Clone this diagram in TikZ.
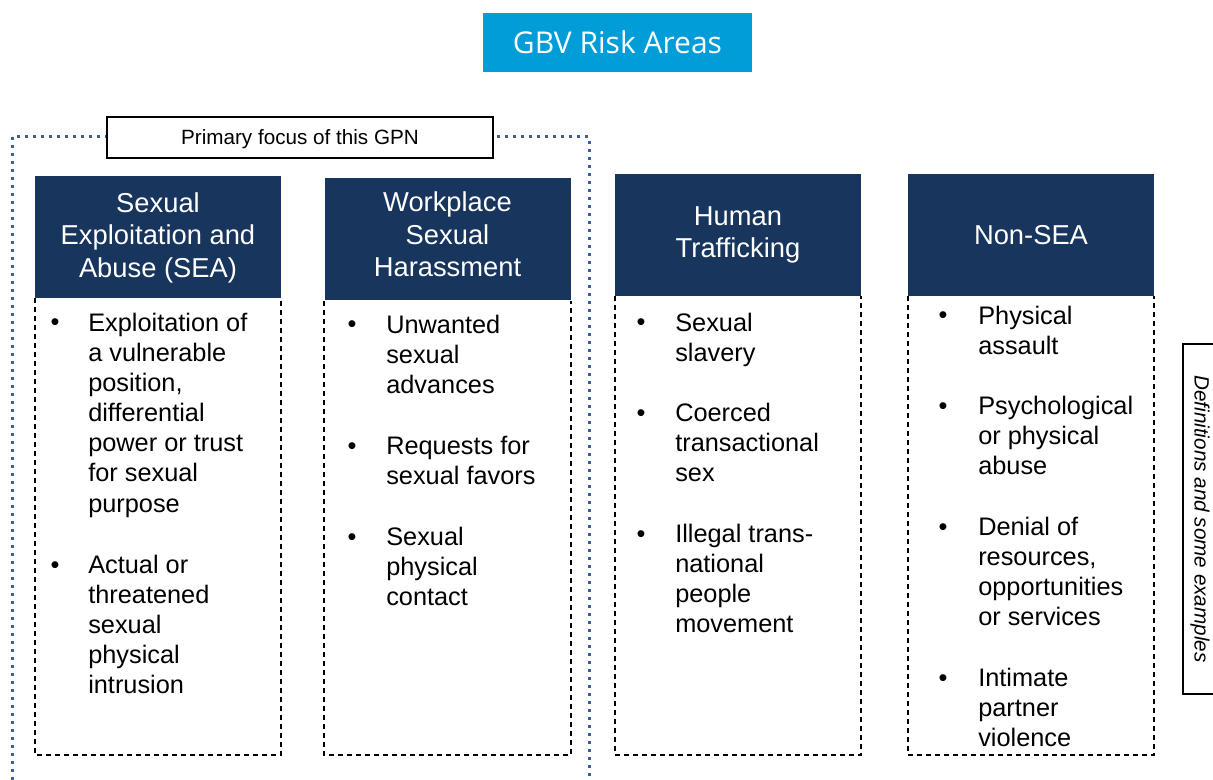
\documentclass[tikz,border=0pt]{standalone}
\usepackage{fontspec}
\setmainfont{Liberation Sans}
\newfontfamily\opensans{Open Sans}
\definecolor{navy}{RGB}{24,54,93}
\definecolor{titleblue}{RGB}{0,157,217}
\definecolor{dotblue}{RGB}{58,95,154}
\tikzset{
 hdr/.style={fill=navy, minimum width=184.5pt, minimum height=91.5pt, inner sep=0pt},
 hdrtext/.style={text=white, align=center, font=\fontsize{20.5}{24.4}\selectfont, inner sep=0pt},
 body/.style={anchor=north west, yshift=15.82pt, align=left, inner sep=0pt, font=\fontsize{19}{22.6}\selectfont},
 bul/.style={anchor=base, inner sep=0pt, font=\fontsize{19}{22.6}\selectfont},
 dashbox/.style={line width=1.2pt, dash pattern=on 3.75pt off 3pt},
 bluedot/.style={draw=dotblue, line width=2.25pt, dash pattern=on 2.25pt off 3.75pt},
 labelbox/.style={draw, line width=1.1pt, fill=white, inner sep=0pt, text depth=0pt, font=\fontsize{15.5}{18}\selectfont},
}
\begin{document}
\begin{tikzpicture}[x=0.75pt,y=-0.75pt]
\useasboundingbox (0,0) rectangle (1213,780);
\fill[white] (0,0) rectangle (1213,780);
% title
\node[fill=titleblue, minimum width=201.75pt, minimum height=44.25pt, inner sep=0pt,
      text=white, font=\opensans\fontsize{22.5}{26}\selectfont] (title) at (617.5,42.5) {GBV Risk Areas};
% blue dotted frame
\coordinate (fnw) at (12,137);
\coordinate (fse) at (589,820);
\draw[bluedot] (fnw) rectangle (fse);
\node[labelbox, minimum width=289.5pt, minimum height=30.75pt] (focus) at (300,137.5) {Primary focus of this GPN};
% headers
\coordinate (bot) at (0,755);
\node[hdr] (h1) at (158,237) {};
\node[hdr] (h2) at (447.5,239.5) {};
\node[hdr] (h3) at (738,235) {};
\node[hdr] (h4) at (1031,235) {};
\node[hdrtext] (t1) at (158,237.5) {Sexual\\Exploitation and\\Abuse (SEA)};
\node[hdrtext] (t2) at (447.5,234.5) {Workplace\\Sexual\\Harassment};
\node[hdrtext] (t3) at (738,235) {Human\\Trafficking};
\node[hdrtext] (t4) at (1031,235) {Non-SEA};
% dashed boxes
\foreach \h in {h1,h2,h3,h4}{
  \draw[dashbox] (\h.south west) -- (\h.south west |- bot) -- (\h.south east |- bot) -- (\h.south east);
}
% box 1
\node[bul] (b11) at (55,331) {•};
\node[body] (i11) at (88,331) {\strut Exploitation of\\a vulnerable\\position,\\differential\\power or trust\\for sexual\\purpose};
\node[bul] (b12) at (55,573) {•};
\node[body] (i12) at (88,573) {\strut Actual or\\threatened\\sexual\\physical\\intrusion};
% box 2
\node[bul] (b21) at (352,333) {•};
\node[body] (i21) at (386,333) {\strut Unwanted\\sexual\\advances};
\node[bul] (b22) at (352,454) {•};
\node[body] (i22) at (386,454) {\strut Requests for\\sexual favors};
\node[bul] (b23) at (352,545) {•};
\node[body] (i23) at (386,545) {\strut Sexual\\physical\\contact};
% box 3
\node[bul] (b31) at (641,331) {•};
\node[body] (i31) at (675,331) {\strut Sexual\\slavery};
\node[bul] (b32) at (641,421) {•};
\node[body] (i32) at (675,421) {\strut Coerced\\transactional\\sex};
\node[bul] (b33) at (641,542) {•};
\node[body] (i33) at (675,542) {\strut Illegal trans-\\national\\people\\movement};
% box 4
\node[bul] (b41) at (943,324) {•};
\node[body] (i41) at (978,324) {\strut Physical\\assault};
\node[bul] (b42) at (943,414) {•};
\node[body] (i42) at (978,414) {\strut Psychological\\or physical\\abuse};
\node[bul] (b43) at (943,535) {•};
\node[body] (i43) at (978,535) {\strut Denial of\\resources,\\opportunities\\or services};
\node[bul] (b44) at (943,686) {•};
\node[body] (i44) at (978,686) {\strut Intimate\\partner\\violence};
% side label
\node[draw, line width=1.1pt, rotate=-90, minimum width=262.5pt, minimum height=25.5pt, inner sep=0pt,
      font=\itshape\fontsize{15.5}{18}\selectfont] (side) at (1200,519) {Definitions and some examples};
\end{tikzpicture}
\end{document}
